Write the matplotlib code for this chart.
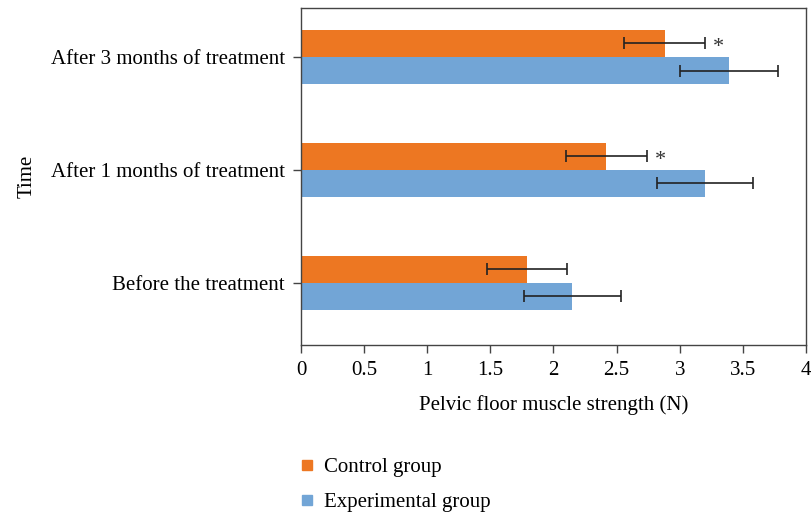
import matplotlib
matplotlib.use("Agg")
import matplotlib.pyplot as plt
from matplotlib.lines import Line2D
import numpy as np

plt.rcParams['font.family'] = ['Liberation Serif', 'DejaVu Serif']

categories = ["Before the treatment", "After 1 months of treatment", "After 3 months of treatment"]
control_mean = [1.79, 2.42, 2.88]
control_err = [0.32, 0.32, 0.32]
exp_mean = [2.15, 3.20, 3.39]
exp_err = [0.385, 0.38, 0.385]
significant = [False, True, True]

orange = "#ED7722"
blue = "#72A5D6"

fig = plt.figure(figsize=(8.11, 5.15), dpi=100)
ax = fig.add_axes([0.3711, 0.3301, 0.6227, 0.6544])

y = np.arange(len(categories))
h = 0.24
ax.barh(y + h / 2, control_mean, height=h, color=orange, label="Control group",
        xerr=control_err, error_kw=dict(ecolor="#222222", elinewidth=1.2, capsize=4, capthick=1.2))
ax.barh(y - h / 2, exp_mean, height=h, color=blue, label="Experimental group",
        xerr=exp_err, error_kw=dict(ecolor="#222222", elinewidth=1.2, capsize=4, capthick=1.2))

for yi, m, e, s in zip(y, control_mean, control_err, significant):
    if s:
        ax.annotate("*", xy=(m + e, yi + h / 2), xytext=(6, -3), textcoords="offset points",
                    ha="left", va="center", fontsize=16, color="#333333")

ax.set_xlim(0, 4)
ax.set_ylim(-0.552, 2.434)
ax.set_xticks(np.arange(0, 4.01, 0.5))
ax.set_xticklabels(["0", "0.5", "1", "1.5", "2", "2.5", "3", "3.5", "4"])
ax.set_yticks(y)
ax.set_yticklabels(categories)
ax.tick_params(axis="both", labelsize=15, color="#444444", length=5.5, width=1)
ax.tick_params(axis="x", pad=6)
ax.tick_params(axis="y", pad=6)
for sp in ax.spines.values():
    sp.set_color("#444444")
    sp.set_linewidth(1)

ax.set_xlabel("Pelvic floor muscle strength (N)", fontsize=15, labelpad=11)
ax.set_ylabel("Time", fontsize=15, labelpad=10)

handles = [Line2D([0], [0], marker="s", linestyle="none", markersize=7.5, color=orange),
           Line2D([0], [0], marker="s", linestyle="none", markersize=7.5, color=blue)]
fig.legend(handles, ["Control group", "Experimental group"], loc="upper left",
           bbox_to_anchor=(0.345, 0.148), frameon=False, fontsize=15,
           handlelength=0.8, handletextpad=0.4, labelspacing=0.75)

fig.savefig("out.png", dpi=100)
